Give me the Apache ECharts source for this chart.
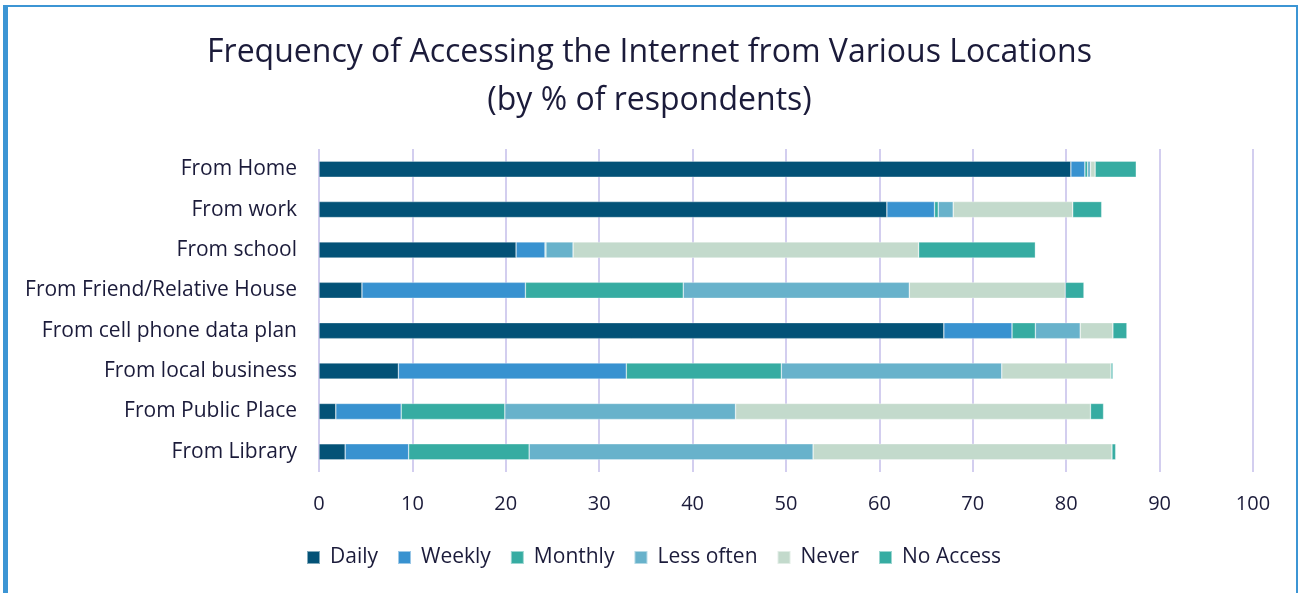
<!DOCTYPE html>
<html>
<head>
<meta charset="utf-8">
<script src="https://cdn.jsdelivr.net/npm/echarts@6/dist/echarts.min.js"></script>
<style>
html,body{margin:0;padding:0;background:#fff;}
#chart{width:1299px;height:593px;}
</style>
</head>
<body>
<div id="chart"></div>
<script>
const categories = ['From Home','From work','From school','From Friend/Relative House','From cell phone data plan','From local business','From Public Place','From Library'];
const seriesNames = ['Daily','Weekly','Monthly','Less often','Never','No Access'];
const daily     = [80.5, 60.8, 21.1,  4.6, 66.9,  8.5,  1.8,  2.8];
const weekly    = [ 1.5,  5.1,  3.1, 17.5,  7.3, 24.4,  7.0,  6.8];
const monthly   = [ 0.3,  0.4,  0.1, 16.9,  2.5, 16.6, 11.1, 12.9];
const lessOften = [ 0.3,  1.6,  2.9, 24.2,  4.8, 23.6, 24.7, 30.4];
const never     = [ 0.5, 12.8, 37.0, 16.7,  3.5, 11.7, 38.0, 32.0];
const noAccess  = [ 4.4,  3.1, 12.5,  2.0,  1.5,  0.2,  1.4,  0.4];
const xTicks = [0,10,20,30,40,50,60,70,80,90,100];
const colors = ['#035277','#3892D0','#36ACA2','#68B2CB','#C3DACC','#36ACA2'];

const values = [daily, weekly, monthly, lessOften, never, noAccess];
const textColor = '#1B1B3A';
const font = '"Open Sans", Lato, sans-serif';

const chart = echarts.init(document.getElementById('chart'));
chart.setOption({
  animation: false,
  backgroundColor: '#fff',
  color: colors,
  title: {
    text: 'Frequency of Accessing the Internet from Various Locations\n(by % of respondents)',
    left: 'center',
    top: 24,
    textStyle: { fontFamily: font, fontSize: 32, fontWeight: 'normal', color: textColor, lineHeight: 48 }
  },
  legend: {
    data: seriesNames,
    left: 306,
    top: 547,
    padding: 0,
    itemWidth: 13,
    itemHeight: 13,
    itemGap: 19,
    icon: 'rect',
    textStyle: { fontFamily: font, fontSize: 21, color: textColor, padding: [0,0,0,5] }
  },
  grid: { left: 319, right: 46, top: 149, bottom: 121, containLabel: false },
  xAxis: {
    type: 'value',
    min: 0, max: 100, interval: 10,
    axisLine: { show: false },
    axisTick: { show: false },
    splitLine: { show: true, lineStyle: { color: '#D3CEEF', width: 2 } },
    axisLabel: {
      fontFamily: font, fontSize: 20, color: textColor, margin: 22,
      formatter: function (v) { return xTicks.indexOf(v) >= 0 ? String(v) : ''; }
    }
  },
  yAxis: {
    type: 'category',
    data: categories,
    inverse: true,
    axisLine: { show: false },
    axisTick: { show: false },
    splitLine: { show: false },
    axisLabel: { fontFamily: font, fontSize: 21, color: textColor, margin: 22 }
  },
  series: seriesNames.map(function (name, i) {
    return {
      name: name,
      type: 'bar',
      stack: 'total',
      barWidth: 16,
      data: values[i],
      itemStyle: { color: colors[i], borderColor: 'rgba(255,255,255,0.5)', borderWidth: 0.6 }
    };
  }),
  graphic: [
    { type: 'rect', shape: { x: 3, y: 5, width: 5, height: 600 }, style: { fill: '#3C95D4' }, silent: true },
    { type: 'rect', shape: { x: 3, y: 5, width: 1295, height: 2 }, style: { fill: '#3C95D4' }, silent: true },
    { type: 'rect', shape: { x: 1296, y: 5, width: 2, height: 600 }, style: { fill: '#3C95D4' }, silent: true }
  ]
});
</script>
</body>
</html>
